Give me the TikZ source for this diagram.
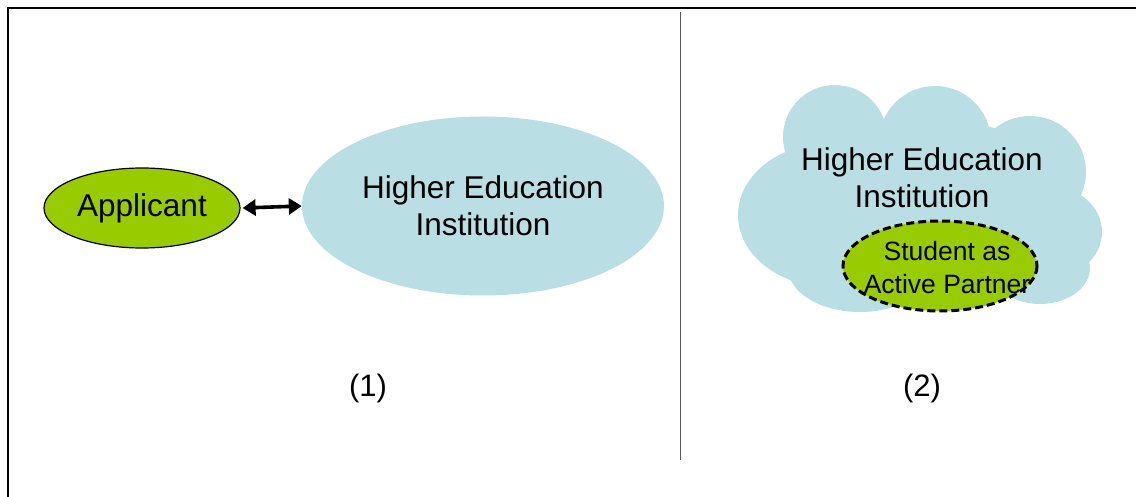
\documentclass[tikz,border=0pt]{standalone}
\usepackage{fontspec}
\setmainfont{Liberation Sans}
\usetikzlibrary{shapes.geometric,arrows.meta}
\definecolor{hblue}{HTML}{B9DEE3}
\definecolor{hgreen}{HTML}{99CC00}
\tikzset{
  greenell/.style={ellipse, fill=hgreen, draw=black, inner sep=0pt, align=center},
  blueell/.style={ellipse, fill=hblue, inner sep=0pt, align=center},
  lbl/.style={font=\fontsize{31}{37}\selectfont, align=center},
}
\begin{document}
\begin{tikzpicture}[x=1pt,y=-1pt]
\useasboundingbox (0,0) rectangle (1136,497);
% frame
\draw[line width=2.2pt] (8,497) -- (8,8) -- (1136,8);
\draw[gray!70!black, line width=0.9pt] (680,12) -- (680,460);
% panel 1
\node[greenell, line width=1.2pt, minimum width=196pt, minimum height=80pt, font=\fontsize{31.5}{37}\selectfont] (app) at (142,208) {Applicant};
\node[blueell, minimum width=362pt, minimum height=179pt, font=\fontsize{31.5}{37}\selectfont] (hei) at (483,206) {Higher Education\\Institution};
\draw[line width=3.6pt, {Triangle[length=13pt,width=16pt]}-{Triangle[length=13pt,width=16pt]}] (app.east) ++(2,0) coordinate (a1) -- (hei.west) ;
\node[lbl] (n1) at (368,388) {(1)};
% panel 2 cloud
\fill[hblue]
  (835,137) circle[radius=52]
  (935,142) circle[radius=56]
  (1030,172) circle[radius=56]
  (1052,232) ellipse[x radius=50, y radius=45]
  (830,215) ellipse[x radius=92, y radius=72]
  (860,268) ellipse[x radius=72, y radius=44]
  (930,210) ellipse[x radius=140, y radius=92]
  (1040,268) ellipse[x radius=50, y radius=36];
\node[lbl, font=\fontsize{31.5}{37}\selectfont] (hei2) at (922,178) {Higher Education\\Institution};
\draw[fill=hgreen, line width=3pt, dash pattern=on 8pt off 4pt] (940,266) ellipse[x radius=97, y radius=45];
\node[align=center, inner sep=0pt, font=\fontsize{26.5}{33}\selectfont] (stu) at (947,268) {Student as\\Active Partner};
\node[lbl] (n2) at (922,388) {(2)};
\end{tikzpicture}
\end{document}
